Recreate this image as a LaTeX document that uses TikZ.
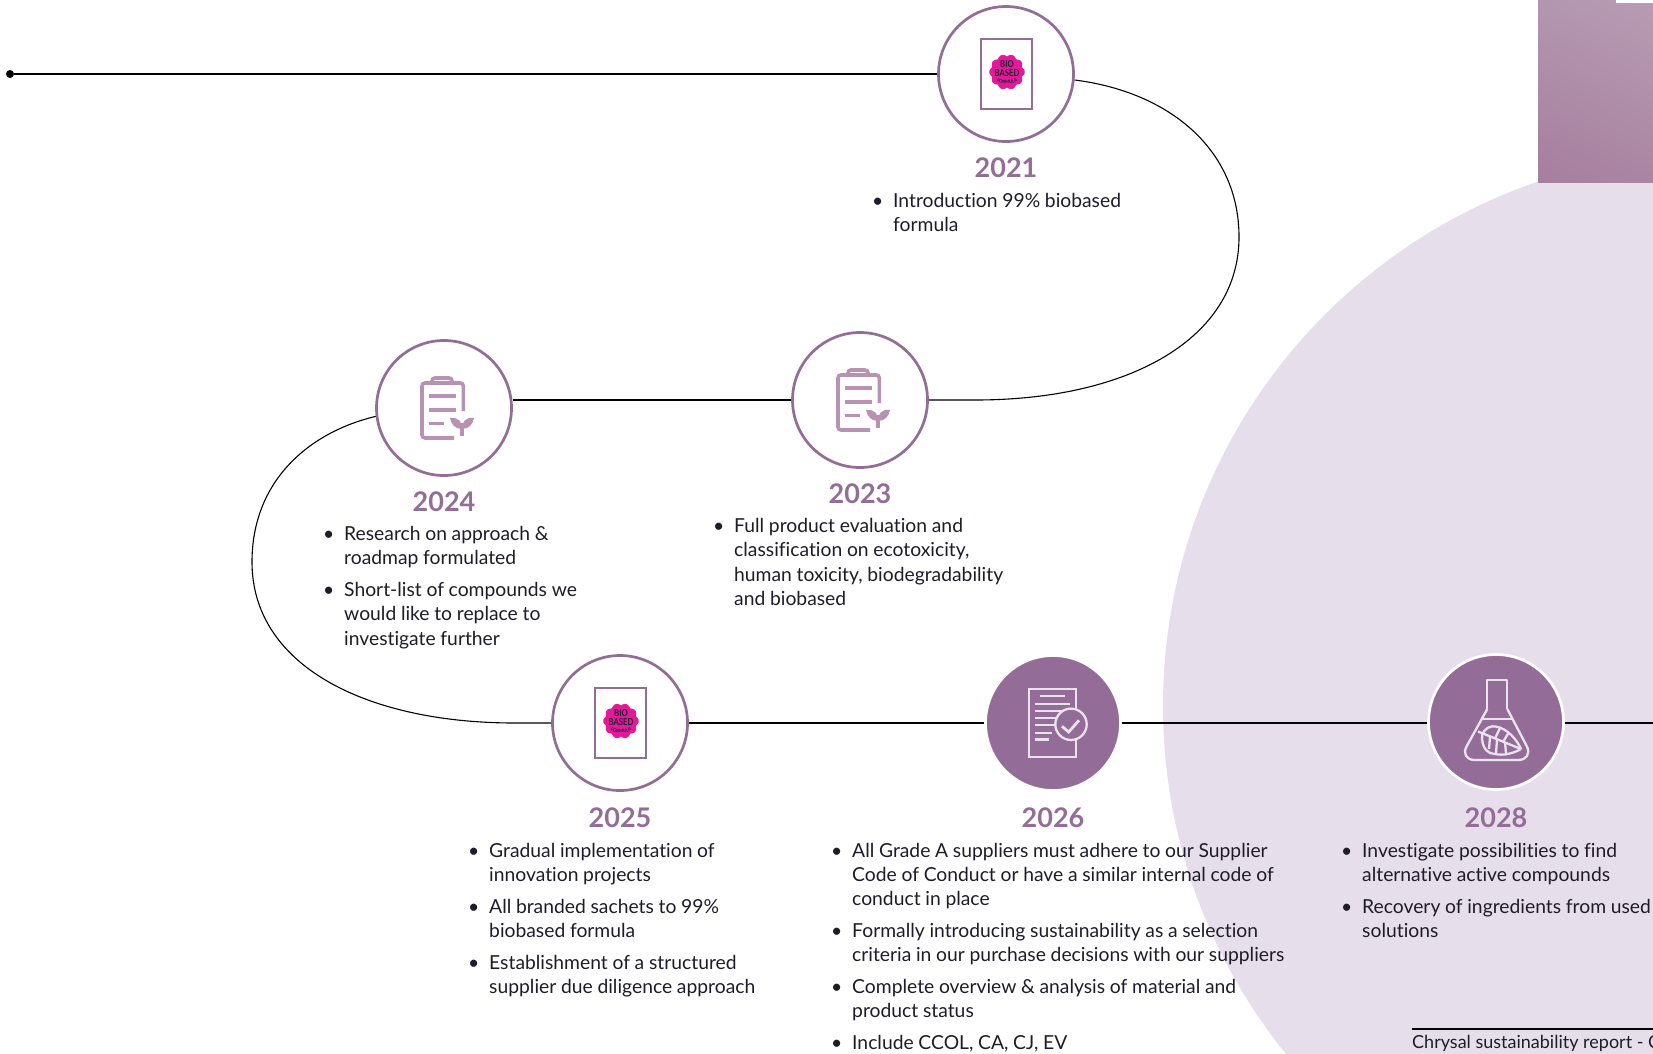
\documentclass[tikz,border=0pt]{standalone}
\usepackage{fontspec}
\setmainfont{Lato}[Ligatures=NoCommon]
\usetikzlibrary{positioning}
\usetikzlibrary{calc}
\usetikzlibrary{shadings}
\usetikzlibrary{decorations.text}
\definecolor{chrysalpurple}{HTML}{936D98}
\definecolor{softpurple}{HTML}{B992B3}
\definecolor{lavender}{HTML}{E6DFEB}
\definecolor{iconline}{HTML}{EAE3EE}
\definecolor{badgepink}{HTML}{E5189B}
\definecolor{inkdark}{HTML}{1F1B2A}
\definecolor{tabtopright}{HTML}{B89CB3}
\definecolor{tabtopleft}{HTML}{B296AF}
\definecolor{tabbottomleft}{HTML}{A67E9E}
\definecolor{tabbottomright}{HTML}{AA85A3}
\newenvironment{yearlist}{\begin{list}{\textbullet}{\setlength{\leftmargin}{16pt}\setlength{\labelwidth}{14pt}\setlength{\labelsep}{10pt}\setlength{\itemsep}{7.4pt}\setlength{\parsep}{0pt}\setlength{\topsep}{0pt}\setlength{\partopsep}{0pt}}\raggedright\spaceskip=4.7pt\relax}{\end{list}}
\tikzset{
    yearcircle/.style={draw=chrysalpurple, line width=2.7pt, fill=white, circle, minimum size=135pt},
    yearfilled/.style={draw=white, line width=2.7pt, fill=chrysalpurple, circle, minimum size=135pt},
    yearlabel/.style={text=chrysalpurple, font=\fontsize{27}{30}\selectfont\bfseries, inner sep=0pt},
    yeartext/.style={text=inkdark, font=\fontsize{19.3}{24.3}\selectfont, inner sep=0pt, text width=480pt, anchor=north west},
    connector/.style={draw=black, line width=1.1pt},
    bioicon/.pic={
        \draw[chrysalpurple, line width=2pt] (-25.5,-35) rectangle (25.5,35);
        \fill[badgepink] plot[domain=0:360, samples=181] ({1+(15.5+2.2*abs(cos(5*\x)))*cos(\x)}, {-2+(15.5+2.2*abs(cos(5*\x)))*sin(\x)}) -- cycle;
        \node[inner sep=0pt, align=center, text=inkdark, transform shape, xscale=0.8, font=\fontsize{9.6}{8.8}\selectfont\bfseries] (-bio) at (1,-5.6) {BIO\\BASED};
        \path[decorate, decoration={text along path, text align=center, text={|\fontsize{4.5}{5}\selectfont\bfseries\color{inkdark}|FORMULA}}] (-11,6) .. controls (-6,11) and (8,11) .. (13,6);
    },
    clipboardicon/.pic={
        \begin{scope}[softpurple, line width=3.6pt, line cap=butt]
        \draw[rounded corners=3pt] (19.3,3) -- (19.3,-25) -- (-22,-25) -- (-22,30) -- (10,30);
        \draw[rounded corners=3pt] (-12,-25) -- (-12,-30) -- (8,-30) -- (8,-25);
        \draw (-15,-12.3) -- (12,-12.3);
        \draw (-15,1.7) -- (12,1.7);
        \draw (-15,15.3) -- (0,15.3);
        \draw (18,15) -- (18,28);
        \fill (6,10) .. controls (15,9) and (18,14) .. (18,21) .. controls (11,21) and (7,16) .. (6,10);
        \fill (30,10) .. controls (21,9) and (18,14) .. (18,21) .. controls (25,21) and (29,16) .. (30,10);
        \end{scope}
    },
    reporticon/.pic={
        \begin{scope}[iconline, line width=2.3pt]
        \draw (-24,-34) rectangle (23,34);
        \draw (-12.7,-26.7) -- (11.7,-26.7);
        \draw (-18.3,-19) -- (17.3,-19);
        \draw (-18.3,-12) -- (10,-12);
        \draw (-18.3,-5) -- (8,-5);
        \draw (-18.3,2) -- (8,2);
        \draw (-18.3,10) -- (-1,10);
        \draw (-18.3,16.5) -- (-4,16.5);
        \draw[fill=chrysalpurple] (18,1.3) circle (15.7);
        \draw[line width=2.8pt] (9,3.3) -- (15.7,9) -- (26,-2.7);
        \end{scope}
    },
    flaskicon/.pic={
        \begin{scope}[iconline, line width=2.3pt, line join=round]
        \draw (-8.7,-13) -- (-8.7,-42) -- (11.3,-42) -- (11.3,-13);
        \draw[rounded corners=16pt] (-8.7,-13) -- (-37,38) -- (38,38) -- (11.3,-13);
        \draw (-14.5,-3) -- (16.5,-3);
        \draw (25,27) .. controls (18,12) and (6,4) .. (-3.7,4.3) .. controls (-10,5) and (-15,11) .. (-14,17) .. controls (-13,27) and (-8,32) .. (-1,32) .. controls (8,34) and (18,31) .. (25,27);
        \draw (-18,9.5) -- (25,27);
        \draw (-6,14.5) -- (-7,27);
        \draw (1,17.5) -- (0,31);
        \draw (9,20.8) -- (10,31);
        \draw (-1,16.5) -- (4,6);
        \draw (7,20) -- (13,10);
        \end{scope}
    }
}
\begin{document}
\begin{tikzpicture}[x=1pt, y=-1pt]
    \useasboundingbox (0,0) rectangle (1653,1053);
    \clip (0,0) rectangle (1653,1053);
    % background shapes
    \fill[lavender] (1717,706) circle (554);
    \shade[upper right=tabtopright, upper left=tabtopleft, lower left=tabbottomleft, lower right=tabbottomright] (1538,0) rectangle (1653,182);
    \fill[white] (1616,0) rectangle (1653,3);

    % year circles
    \node[yearcircle] (y2021) at (1006,74) {};
    \node[yearcircle] (y2023) at (860,400) {};
    \node[yearcircle] (y2024) at (444,408) {};
    \node[yearcircle] (y2025) at (620,723) {};
    \node[yearfilled] (y2026) at (1053,723) {};
    \node[yearfilled] (y2028) at (1496,722) {};

    % timeline
    \node[circle, fill=black, inner sep=0pt, minimum size=8pt] (startdot) at (10,74) {};
    \coordinate (lineend) at (1653,723);
    \draw[connector] (startdot) -- (y2021);
    \draw[connector] (y2021.-5) .. controls (1170,92) and (1239,150) .. (1239,237) .. controls (1239,338) and (1130,400) .. (975,400) -- (y2023.east);
    \draw[connector] (y2023.west) -- (y2024.east |- y2023.west);
    \draw[connector] (y2024.187) .. controls (310,432) and (252,480) .. (252,562) .. controls (252,665) and (365,723) .. (515,723) -- (y2025.west);
    \draw[connector] (y2025.east) -- (y2026.west);
    \draw[connector] (y2026.east) -- (y2028.west |- y2026.east);
    \draw[connector] (y2028.east |- lineend) -- (lineend);

    % icons
    \pic (icon2021) at (y2021) {bioicon};
    \pic (icon2023) at (y2023) {clipboardicon};
    \pic (icon2024) at (y2024) {clipboardicon};
    \pic (icon2025) at (y2025) {bioicon};
    \pic (icon2026) at (y2026) {reporticon};
    \pic (icon2028) at (y2028) {flaskicon};

    % years
    \node[yearlabel, below=15pt of y2021] (label2021) {2021};
    \node[yearlabel, below=14.5pt of y2023] (label2023) {2023};
    \node[yearlabel, below=15pt of y2024] (label2024) {2024};
    \node[yearlabel, below=16pt of y2025] (label2025) {2025};
    \node[yearlabel, below=16pt of y2026] (label2026) {2026};
    \node[yearlabel, below=17pt of y2028] (label2028) {2028};

    % lists
    \node[yeartext] (text2021) at (877,183) {\begin{yearlist}
        \item Introduction 99\% biobased\\ formula
    \end{yearlist}};
    \node[yeartext] (text2023) at (718,508) {\begin{yearlist}
        \item Full product evaluation and\\ classification on ecotoxicity,\\ human toxicity, biodegradability\\ and biobased
    \end{yearlist}};
    \node[yeartext] (text2024) at (328,516) {\begin{yearlist}
        \item Research on approach \&\\ roadmap formulated
        \item Short-list of compounds we\\ would like to replace to\\ investigate further
    \end{yearlist}};
    \node[yeartext] (text2025) at (473,832.5) {\begin{yearlist}
        \item Gradual implementation of\\ innovation projects
        \item All branded sachets to 99\%\\ biobased formula
        \item Establishment of a structured\\ supplier due diligence approach
    \end{yearlist}};
    \node[yeartext] (text2026) at (836,832.5) {\begin{yearlist}
        \item All Grade A suppliers must adhere to our Supplier\\ Code of Conduct or have a similar internal code of\\ conduct in place
        \item Formally introducing sustainability as a selection\\ criteria in our purchase decisions with our suppliers
        \item Complete overview \& analysis of material and\\ product status
        \item Include CCOL, CA, CJ, EV
    \end{yearlist}};
    \node[yeartext] (text2028) at (1346,832.5) {\begin{yearlist}
        \item Investigate possibilities to find\\ alternative active compounds
        \item Recovery of ingredients from used\\ solutions
    \end{yearlist}};

    % footer
    \coordinate (footerend) at (1653,1029);
    \node[text=inkdark, font=\fontsize{18}{22}\selectfont, inner sep=0pt, anchor=west] (footer) at (1412,1043) {\spaceskip=4.6pt\relax Chrysal sustainability report - C};
    \draw[black, line width=1.5pt] (footer.west |- footerend) -- (footerend);
\end{tikzpicture}
\end{document}
